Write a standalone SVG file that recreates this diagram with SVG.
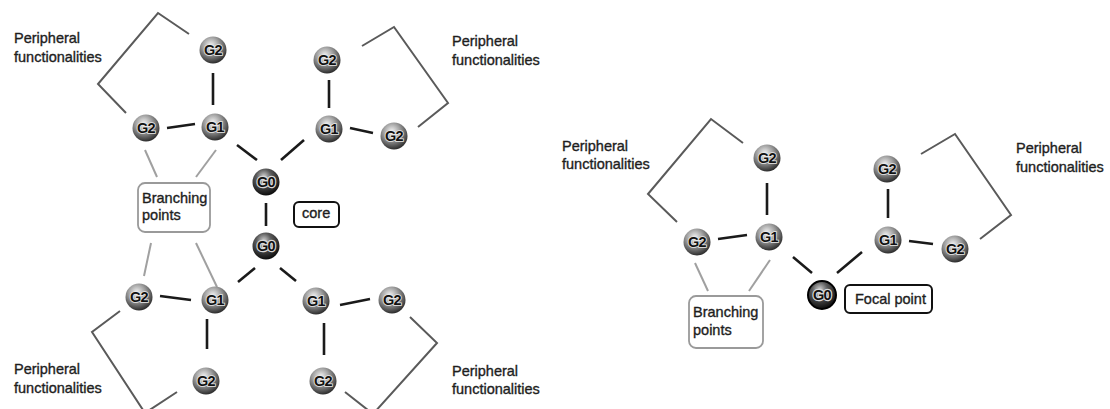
<svg xmlns="http://www.w3.org/2000/svg" width="1110" height="409" viewBox="0 0 1110 409">
<defs>
<radialGradient id="ball" cx="0.42" cy="0.33" r="0.68">
<stop offset="0" stop-color="#f4f4f4"/>
<stop offset="0.45" stop-color="#a0a0a0"/>
<stop offset="1" stop-color="#2a2a2a"/>
</radialGradient>
<radialGradient id="ball0" cx="0.42" cy="0.3" r="0.7">
<stop offset="0" stop-color="#d0d0d0"/>
<stop offset="0.4" stop-color="#5a5a5a"/>
<stop offset="1" stop-color="#0c0c0c"/>
</radialGradient>
</defs>
<style>
.n circle{fill:url(#ball)}
.n0 circle{fill:url(#ball0)}
.n text,.n0 text{font-family:"Liberation Sans",Arial,sans-serif;font-weight:bold;font-size:14.5px;letter-spacing:-0.6px;fill:#111;text-anchor:middle;stroke:#e8e8e8;stroke-width:1.6px;paint-order:stroke}
.n0 text{stroke:#d8d8d8;stroke-width:2.4px}
.lbl{font-family:"Liberation Sans",Arial,sans-serif;font-size:14.5px;fill:#1e1e1e;stroke:#1e1e1e;stroke-width:0.35px}
.k{stroke:#1a1a1a;stroke-width:2.6;fill:none;stroke-linecap:butt}
.br{stroke:#5a5a5a;stroke-width:2;fill:none;stroke-linejoin:miter}
.bp{stroke:#a0a0a0;stroke-width:2;fill:none}
.gbox{fill:#fff;stroke:#9a9a9a;stroke-width:1.8}
.kbox{fill:#fff;stroke:#111;stroke-width:2}
</style>
<rect width="1110" height="409" fill="#fff"/>

<g id="connectors">
<line class="k" x1="213" y1="73" x2="213" y2="105"/>
<line class="k" x1="167" y1="128" x2="195" y2="124"/>
<line class="k" x1="237" y1="145" x2="257" y2="160"/>
<line class="k" x1="304" y1="140" x2="281" y2="160"/>
<line class="k" x1="329" y1="80" x2="329" y2="108"/>
<line class="k" x1="350" y1="128" x2="373" y2="133"/>
<line class="k" x1="266" y1="203" x2="266" y2="226"/>
<line class="k" x1="238" y1="282" x2="255" y2="268"/>
<line class="k" x1="280" y1="268" x2="296" y2="281"/>
<line class="k" x1="160" y1="296" x2="191" y2="300"/>
<line class="k" x1="207" y1="319" x2="207" y2="349"/>
<line class="k" x1="340" y1="305" x2="370" y2="299"/>
<line class="k" x1="324" y1="323" x2="324" y2="355"/>
<polyline class="br" points="126,113 98,84 158,13 189,34"/>
<polyline class="br" points="362,46 394,27 448,103 418,127"/>
<polyline class="br" points="120,311 92,332 145,413 177,392"/>
<polyline class="br" points="410,317 437,343 373,414 345,392"/>
<line class="bp" x1="145" y1="150" x2="157" y2="177"/>
<line class="bp" x1="216" y1="150" x2="196" y2="177"/>
<line class="bp" x1="151" y1="243" x2="144" y2="276"/>
<line class="bp" x1="196" y1="243" x2="217" y2="287"/>
<line class="k" x1="767" y1="183" x2="767" y2="215"/>
<line class="k" x1="718" y1="239" x2="747" y2="235"/>
<line class="k" x1="793" y1="257" x2="812" y2="273"/>
<line class="k" x1="888" y1="189" x2="888" y2="218"/>
<line class="k" x1="909" y1="241" x2="933" y2="244"/>
<line class="k" x1="862" y1="252" x2="837" y2="273"/>
<polyline class="br" points="677,222 648,194 711,119 743,143"/>
<polyline class="br" points="921,154 955,134 1011,215 980,239"/>
<line class="bp" x1="695" y1="263" x2="708" y2="291"/>
<line class="bp" x1="770" y1="260" x2="749" y2="291"/>
</g>

<g id="labels">
<text class="lbl" x="14" y="43">Peripheral</text>
<text class="lbl" x="14" y="62">functionalities</text>
<text class="lbl" x="452" y="46">Peripheral</text>
<text class="lbl" x="452" y="65">functionalities</text>
<text class="lbl" x="14" y="374">Peripheral</text>
<text class="lbl" x="14" y="393">functionalities</text>
<text class="lbl" x="452" y="376">Peripheral</text>
<text class="lbl" x="452" y="394">functionalities</text>
<text class="lbl" x="562" y="151">Peripheral</text>
<text class="lbl" x="562" y="169">functionalities</text>
<text class="lbl" x="1016" y="153">Peripheral</text>
<text class="lbl" x="1016" y="172">functionalities</text>
</g>

<g id="branch-left">
<rect class="gbox" x="138" y="183" width="72" height="49" rx="7"/>
<text class="lbl" x="142" y="203">Branching</text>
<text class="lbl" x="142" y="220">points</text>
</g>
<g id="core">
<rect class="kbox" x="294" y="202" width="45" height="25" rx="5"/>
<text class="lbl" x="302" y="218">core</text>
</g>
<g id="branch-right">
<rect class="gbox" x="689" y="296" width="74" height="52" rx="7"/>
<text class="lbl" x="693" y="317">Branching</text>
<text class="lbl" x="693" y="335">points</text>
</g>
<g id="focal">
<rect class="kbox" x="845" y="285" width="87" height="28" rx="5"/>
<text class="lbl" x="855" y="304">Focal point</text>
</g>

<g id="L-G2a" class="n"><circle cx="213" cy="50" r="13.5"/><text x="213" y="55">G2</text></g>
<g id="L-G1a" class="n"><circle cx="215" cy="127" r="13.5"/><text x="215" y="132">G1</text></g>
<g id="L-G2b" class="n"><circle cx="146" cy="128" r="13.5"/><text x="146" y="133">G2</text></g>
<g id="L-G0a" class="n0"><circle cx="266" cy="182" r="13.5"/><text x="266" y="187">G0</text></g>
<g id="L-G0b" class="n0"><circle cx="266" cy="246" r="13.5"/><text x="266" y="251">G0</text></g>
<g id="L-G1b" class="n"><circle cx="329" cy="129" r="13.5"/><text x="329" y="134">G1</text></g>
<g id="L-G2c" class="n"><circle cx="327" cy="60" r="13.5"/><text x="327" y="65">G2</text></g>
<g id="L-G2d" class="n"><circle cx="394" cy="136" r="13.5"/><text x="394" y="141">G2</text></g>
<g id="L-G1c" class="n"><circle cx="215" cy="300" r="13.5"/><text x="215" y="305">G1</text></g>
<g id="L-G2e" class="n"><circle cx="139" cy="297" r="13.5"/><text x="139" y="302">G2</text></g>
<g id="L-G2f" class="n"><circle cx="206" cy="381" r="13.5"/><text x="206" y="386">G2</text></g>
<g id="L-G1d" class="n"><circle cx="316" cy="301" r="13.5"/><text x="316" y="306">G1</text></g>
<g id="L-G2g" class="n"><circle cx="392" cy="300" r="13.5"/><text x="392" y="305">G2</text></g>
<g id="L-G2h" class="n"><circle cx="323" cy="381" r="13.5"/><text x="323" y="386">G2</text></g>

<g id="R-G2a" class="n"><circle cx="767" cy="158" r="13.5"/><text x="767" y="163">G2</text></g>
<g id="R-G1a" class="n"><circle cx="769" cy="237" r="13.5"/><text x="769" y="242">G1</text></g>
<g id="R-G2b" class="n"><circle cx="697" cy="242" r="13.5"/><text x="697" y="247">G2</text></g>
<g id="R-G0" class="n0"><circle cx="822" cy="295" r="14" stroke="#000" stroke-width="2"/><text x="822" y="300">G0</text></g>
<g id="R-G2c" class="n"><circle cx="887" cy="169" r="13.5"/><text x="887" y="174">G2</text></g>
<g id="R-G1b" class="n"><circle cx="888" cy="240" r="13.5"/><text x="888" y="245">G1</text></g>
<g id="R-G2d" class="n"><circle cx="955" cy="249" r="13.5"/><text x="955" y="254">G2</text></g>
</svg>
